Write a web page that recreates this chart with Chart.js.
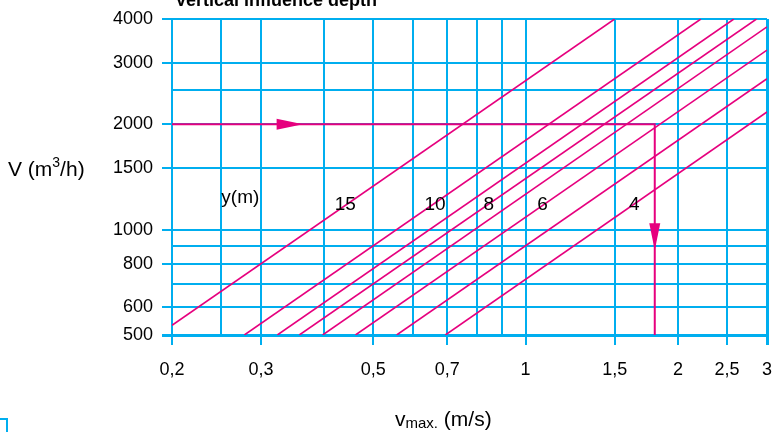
<!DOCTYPE html>
<html>
<head>
<meta charset="utf-8">
<script src="https://cdn.jsdelivr.net/npm/chart.js@4.4.1/dist/chart.umd.min.js"></script>
<style>
  html, body { margin: 0; padding: 0; background: #fff; }
</style>
</head>
<body>
<canvas id="chart" width="775" height="432"></canvas>
<script>
// grid lines and labelled ticks (v in m/s, V in m3/h)
const xGridValues = [0.2, 0.25, 0.3, 0.4, 0.5, 0.6, 0.7, 0.8, 0.9, 1, 1.5, 2, 2.5, 3];
const xTickValues = [0.2, 0.3, 0.5, 0.7, 1, 1.5, 2, 2.5, 3];
const xTickLabels = ["0,2", "0,3", "0,5", "0,7", "1", "1,5", "2", "2,5", "3"];
const yGridValues = [500, 600, 700, 800, 900, 1000, 1500, 2000, 2500, 3000, 4000];
const yTickValues = [500, 600, 800, 1000, 1500, 2000, 3000, 4000];
const yTickLabels = ["500", "600", "800", "1000", "1500", "2000", "3000", "4000"];

// depth lines as [v, V] end points
const depthLineStarts = [[0.2, 533], [0.278, 500], [0.323, 500], [0.357, 500], [0.397, 500], [0.461, 500], [0.556, 500], [0.694, 500]];
const depthLineEnds   = [[1.5, 4000], [2.22, 4000], [2.58, 4000], [2.86, 4000], [3, 3800], [3, 3260], [3, 2700], [3, 2170]];

// curve labels y (m)
const curveLabels = ["15", "10", "8", "6", "4"];
const curveLabelV = [0.44, 0.662, 0.846, 1.08, 1.64];
const curveLabelQ = 1180;

// worked example: 2000 m3/h read across, then down
const exampleV = [0.2, 1.8, 1.8];
const exampleQ = [2000, 2000, 500];

const MAGENTA = "#e6007e";
const CYAN = "#00aeef";
const FONT = "'Liberation Sans', Arial, sans-serif";

const datasets = depthLineStarts.map((s, i) => ({
    data: [{ x: s[0], y: s[1] }, { x: depthLineEnds[i][0], y: depthLineEnds[i][1] }],
    showLine: true,
    borderColor: MAGENTA,
    borderWidth: 1.6,
    pointRadius: 0,
}));
datasets.push({
    data: exampleV.map((v, i) => ({ x: v, y: exampleQ[i] })),
    showLine: true,
    borderColor: MAGENTA,
    borderWidth: 2,
    pointRadius: 0,
});

function tri(ctx, pts) {
    ctx.beginPath();
    ctx.moveTo(pts[0][0], pts[0][1]);
    ctx.lineTo(pts[1][0], pts[1][1]);
    ctx.lineTo(pts[2][0], pts[2][1]);
    ctx.closePath();
    ctx.fill();
}

const decor = {
    id: "decor",
    afterDatasetsDraw(chart) {
        const ctx = chart.ctx;
        const xs = chart.scales.x, ys = chart.scales.y;
        ctx.save();
        // arrow heads
        ctx.fillStyle = MAGENTA;
        const hy = ys.getPixelForValue(2000);
        const hb = xs.getPixelForValue(0.322), ht = xs.getPixelForValue(0.363);
        tri(ctx, [[hb, hy - 5.5], [hb, hy + 5.5], [ht, hy]]);
        const vx = xs.getPixelForValue(1.8);
        const vb = ys.getPixelForValue(1043), vt = ys.getPixelForValue(873);
        tri(ctx, [[vx - 5.5, vb], [vx + 5.5, vb], [vx, vt]]);

        // curve labels
        ctx.fillStyle = "#000";
        ctx.font = "19px " + FONT;
        ctx.textAlign = "center";
        ctx.textBaseline = "middle";
        curveLabels.forEach((t, i) => {
            ctx.fillText(t, xs.getPixelForValue(curveLabelV[i]), ys.getPixelForValue(curveLabelQ));
        });
        ctx.fillText("y(m)", xs.getPixelForValue(0.273), ys.getPixelForValue(1236));
        ctx.restore();
    },
    afterDraw(chart) {
        const ctx = chart.ctx;
        ctx.save();
        ctx.fillStyle = "#000";
        ctx.textBaseline = "alphabetic";
        ctx.textAlign = "left";
        // title, clipped at the top edge
        ctx.font = "bold 18px " + FONT;
        ctx.fillText("Vertical influence depth", 175, 6);

        // y axis title with superscript
        let x = 8;
        ctx.font = "21px " + FONT;
        ctx.fillText("V (m", x, 176);
        x += ctx.measureText("V (m").width;
        ctx.font = "14px " + FONT;
        ctx.fillText("3", x, 167);
        x += ctx.measureText("3").width;
        ctx.font = "21px " + FONT;
        ctx.fillText("/h)", x, 176);

        // x axis title with subscript
        x = 395;
        ctx.font = "21px " + FONT;
        ctx.fillText("v", x, 426);
        x += ctx.measureText("v").width;
        ctx.font = "15px " + FONT;
        ctx.fillText("max.", x, 428);
        x += ctx.measureText("max.").width;
        ctx.font = "21px " + FONT;
        ctx.fillText(" (m/s)", x, 426);

        // corner mark at bottom left
        ctx.strokeStyle = CYAN;
        ctx.lineWidth = 2;
        ctx.beginPath();
        ctx.moveTo(0, 419);
        ctx.lineTo(7, 419);
        ctx.lineTo(7, 432);
        ctx.stroke();
        ctx.restore();
    }
};

new Chart(document.getElementById("chart"), {
    type: "scatter",
    data: { datasets },
    plugins: [decor],
    options: {
        responsive: false,
        animation: false,
        layout: { padding: { left: 0, top: 19, right: 8, bottom: 0 } },
        plugins: { legend: { display: false }, tooltip: { enabled: false } },
        scales: {
            x: {
                type: "logarithmic",
                min: 0.2,
                max: 3,
                afterBuildTicks: (s) => { s.ticks = xGridValues.map(v => ({ value: v })); },
                afterFit: (s) => { s.height = 97; s.paddingLeft = 0; s.paddingRight = 0; },
                border: { display: false },
                grid: {
                    color: CYAN,
                    lineWidth: (c) => (c.tick && c.tick.value === 3 ? 3 : 2),
                    tickLength: 10,
                    tickColor: (c) => (c.tick && xTickValues.includes(c.tick.value) ? CYAN : "rgba(0,0,0,0)"),
                },
                ticks: {
                    autoSkip: false,
                    maxRotation: 0,
                    padding: 14,
                    color: "#000",
                    font: { family: FONT, size: 18 },
                    callback: (v) => {
                        const i = xTickValues.indexOf(v);
                        return i >= 0 ? xTickLabels[i] : "";
                    },
                },
            },
            y: {
                type: "logarithmic",
                min: 500,
                max: 4000,
                afterBuildTicks: (s) => { s.ticks = yGridValues.map(v => ({ value: v })); },
                afterFit: (s) => { s.width = 172; s.paddingTop = 0; s.paddingBottom = 0; },
                border: { display: false },
                grid: {
                    color: CYAN,
                    lineWidth: (c) => (c.tick && c.tick.value === 500 ? 3 : 2),
                    tickLength: 10,
                    tickColor: (c) => (c.tick && yTickValues.includes(c.tick.value) ? CYAN : "rgba(0,0,0,0)"),
                },
                ticks: {
                    autoSkip: false,
                    padding: 9,
                    color: "#000",
                    font: { family: FONT, size: 18 },
                    callback: (v) => {
                        const i = yTickValues.indexOf(v);
                        return i >= 0 ? yTickLabels[i] : "";
                    },
                },
            },
        },
    },
});
</script>
</body>
</html>
